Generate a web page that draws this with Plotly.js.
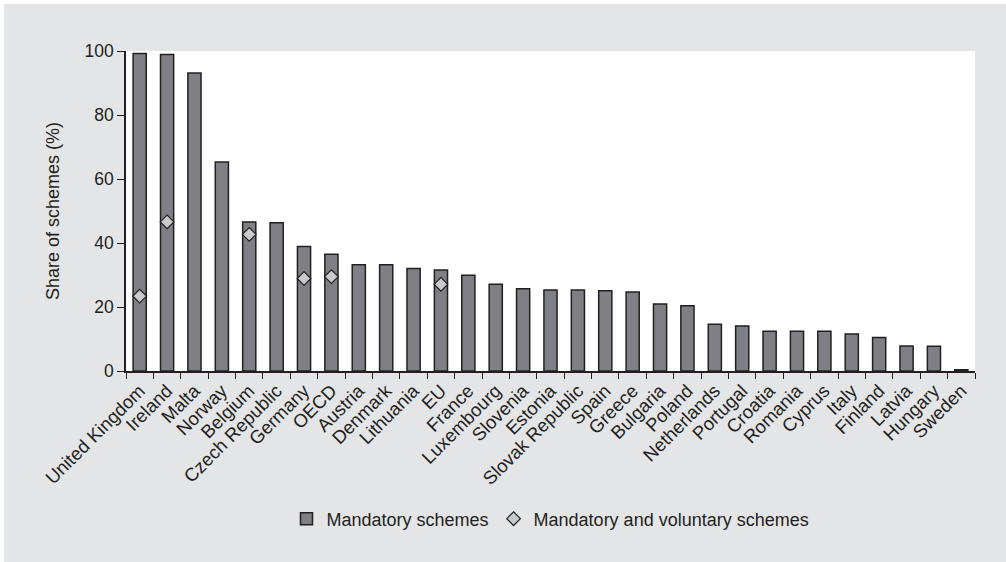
<!DOCTYPE html>
<html>
<head>
<meta charset="utf-8">
<script src="https://cdn.plot.ly/plotly-3.0.1.min.js"></script>
<style>
  html, body { margin: 0; padding: 0; background: #ffffff; }
  #chart { position: absolute; left: 4px; top: 4px; width: 1002px; height: 558px; }
</style>
</head>
<body>
<div id="chart"></div>
<script>
const countries = ["United Kingdom","Ireland","Malta","Norway","Belgium","Czech Republic","Germany","OECD","Austria","Denmark","Lithuania","EU","France","Luxembourg","Slovenia","Estonia","Slovak Republic","Spain","Greece","Bulgaria","Poland","Netherlands","Portugal","Croatia","Romania","Cyprus","Italy","Finland","Latvia","Hungary","Sweden"];
const mandatory = [99.2, 98.9, 93.1, 65.3, 46.6, 46.3, 38.9, 36.5, 33.2, 33.2, 32.0, 31.6, 29.9, 27.1, 25.7, 25.3, 25.3, 25.1, 24.7, 20.9, 20.4, 14.6, 14.1, 12.4, 12.4, 12.4, 11.6, 10.5, 7.8, 7.7, 0.4];
const mandatoryVoluntary = [23.4, 46.6, null, null, 42.7, null, 28.9, 29.5, null, null, null, 27.1, null, null, null, null, null, null, null, null, null, null, null, null, null, null, null, null, null, null, null];
const yTicks = [0, 20, 40, 60, 80, 100];

const ink = "#231f20";
const fontFam = "'Liberation Sans', Arial, Helvetica, sans-serif";

const traces = [
  {
    type: "bar",
    name: "Mandatory schemes",
    x: countries,
    y: mandatory,
    marker: { color: "#7f8085", line: { color: ink, width: 1.5 } },
    hoverinfo: "x+y"
  },
  {
    type: "scatter",
    mode: "markers",
    name: "Mandatory and voluntary schemes",
    x: countries,
    y: mandatoryVoluntary,
    marker: { symbol: "diamond", size: 10.5, color: "#c9cacc", line: { color: ink, width: 1.2 } },
    hoverinfo: "x+y"
  }
];

const layout = {
  width: 1002,
  height: 558,
  margin: { l: 122, r: 31, t: 47, b: 191, pad: 0 },
  paper_bgcolor: "#e4e5e7",
  plot_bgcolor: "#ffffff",
  font: { family: fontFam, size: 17, color: ink },
  bargap: 0.52,
  showlegend: true,
  legend: {
    orientation: "h",
    x: 0.5, xanchor: "center",
    y: -0.4625, yanchor: "middle",
    font: { family: fontFam, size: 18, color: ink },
    bgcolor: "rgba(0,0,0,0)",
    itemwidth: 30
  },
  xaxis: {
    type: "category",
    range: [-0.5, countries.length - 0.5],
    tickangle: -45,
    tickson: "boundaries",
    ticks: "outside",
    ticklen: 6,
    tickwidth: 1.2,
    tickcolor: ink,
    showline: true,
    linecolor: ink,
    linewidth: 1.5,
    showgrid: false,
    automargin: false,
    tickfont: { family: fontFam, size: 18.5, color: ink }
  },
  yaxis: {
    range: [0, 100],
    tickvals: yTicks,
    ticktext: yTicks.map(String),
    ticks: "outside",
    ticklen: 7,
    tickwidth: 1.2,
    tickcolor: ink,
    showline: true,
    linecolor: ink,
    linewidth: 1.5,
    showgrid: false,
    zeroline: false,
    automargin: false,
    tickfont: { family: fontFam, size: 17.5, color: ink },
    title: { text: "Share of schemes (%)", font: { family: fontFam, size: 18, color: ink }, standoff: 20 }
  }
};

Plotly.newPlot("chart", traces, layout, { displayModeBar: false });
</script>
</body>
</html>
